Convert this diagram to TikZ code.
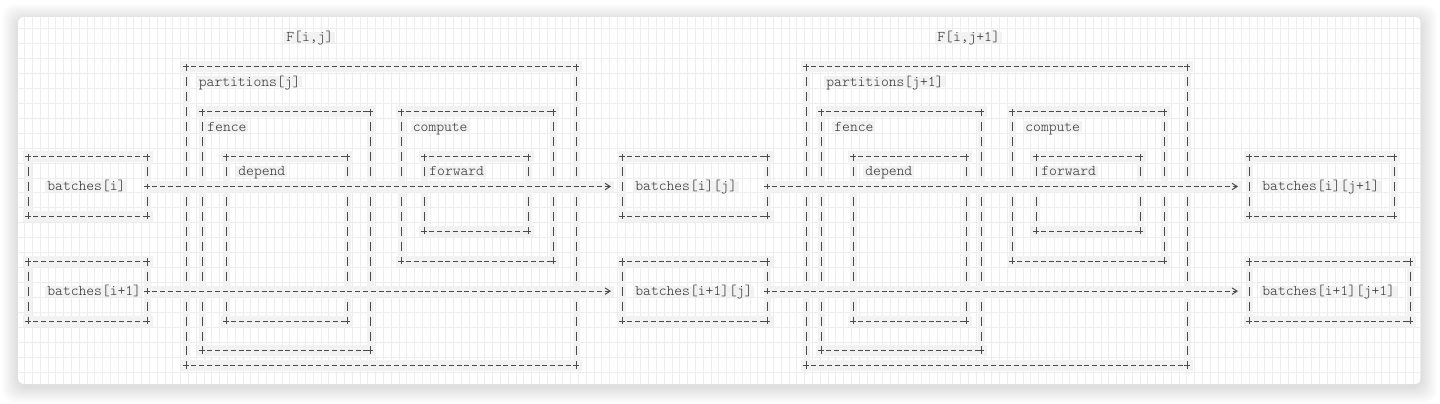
\documentclass[tikz,border=0pt]{standalone}
\usepackage{fontspec}
\newfontfamily\asciifont{lmmonolt10-regular.otf}
\usepackage{xcolor}
\definecolor{ink}{HTML}{333333}
\definecolor{rule}{HTML}{4A4A4A}
\definecolor{band}{HTML}{F2F2F2}
\definecolor{gridgray}{HTML}{EDEDED}
\usetikzlibrary{fit}
\usetikzlibrary{arrows.meta}

\tikzset{
	box/.style={inner sep=0pt, outer sep=0pt},
	hdash/.style={draw=rule, line width=0.5pt, dash pattern=on 2.5pt off 1.4pt, dash phase=1.25pt},
	vdash/.style={draw=rule, line width=0.5pt, dash pattern=on 4.5pt off 2.975pt, dash phase=2.25pt},
	hband/.style={draw=band, line width=5.5pt},
	vband/.style={draw=band, line width=3.5pt},
	plus/.style={draw=rule, line width=0.5pt},
	flow/.style={hdash, shorten >=5.5pt, -{Straight Barb[length=2.5pt,width=3.2pt]}},
	gridrule/.style={draw=gridgray, line width=0.5pt},
	lbl/.style={anchor=base west, inner xsep=1pt, inner ysep=0pt, text height=4.95pt, text depth=0.55pt,
		fill=band, text=ink, font=\asciifont\fontsize{7.43}{9}\selectfont, yshift=-2.2pt}
}

\begin{document}
\begin{tikzpicture}[x=0.5pt, y=-7.475pt]
		\useasboundingbox (0,-2.475) rectangle (1440,24.482);
		\fill[white] (0,-2.475) rectangle (1440,24.482);
		
		%card with shadow
		\foreach \s in {1,...,16}
		\fill[black, opacity=0.008, rounded corners=6pt] ({18-\s},{-1.338-(\s-3)/14.95}) rectangle ({1421+\s},{23.211+(\s+3)/14.95});
		\begin{scope}
			\clip[rounded corners=3pt] (18,-1.338) rectangle (1421,23.211);
			\fill[white] (18,-1.338) rectangle (1421,23.211);
			\foreach \k in {0,...,179}
			\draw[gridrule] ({24.6+7.8*\k},-1.4) -- ({24.6+7.8*\k},23.3);
			\foreach \k in {0,...,23}
			\draw[gridrule] (18,{\k-0.5686}) -- (1421,{\k-0.5686});
		\end{scope}
		
		%boxes of F[i,j]
		\node[box, fit={(28,8) (147,12)}] (batchI) {};
		\node[box, fit={(28,15) (147,19)}] (batchII) {};
		\node[box, fit={(186,2) (576,22)}] (partJ) {};
		\node[box, fit={(202,5) (370,21)}] (fenceJ) {};
		\node[box, fit={(226,8) (347,19)}] (dependJ) {};
		\node[box, fit={(401,5) (553,15)}] (computeJ) {};
		\node[box, fit={(424,8) (528,13)}] (forwardJ) {};
		\node[box, fit={(622,8) (767,12)}] (batchIJ) {};
		\node[box, fit={(622,15) (767,19)}] (batchIIJ) {};
		
		%boxes of F[i,j+1]
		\node[box, fit={(806,2) (1187,22)}] (partJJ) {};
		\node[box, fit={(821,5) (981,21)}] (fenceJJ) {};
		\node[box, fit={(853,8) (966,19)}] (dependJJ) {};
		\node[box, fit={(1012,5) (1164,15)}] (computeJJ) {};
		\node[box, fit={(1036,8) (1140,13)}] (forwardJJ) {};
		\node[box, fit={(1249,8) (1394,12)}] (batchIJJ) {};
		\node[box, fit={(1249,15) (1410,19)}] (batchIIJJ) {};
		
		%draw box edges
		\foreach \b in {batchI,batchII,partJ,fenceJ,dependJ,computeJ,forwardJ,batchIJ,batchIIJ,partJJ,fenceJJ,dependJJ,computeJJ,forwardJJ,batchIJJ,batchIIJJ}
		{
			\draw[hband, line cap=rect] (\b.north west) -- (\b.north east) (\b.south west) -- (\b.south east);
			\draw[vband] (\b.north west) -- (\b.south west) (\b.north east) -- (\b.south east);
		}
		\foreach \b in {batchI,batchII,partJ,fenceJ,dependJ,computeJ,forwardJ,batchIJ,batchIIJ,partJJ,fenceJJ,dependJJ,computeJJ,forwardJJ,batchIJJ,batchIIJJ}
		{
			\draw[hdash] (\b.north west) -- (\b.north east) (\b.south west) -- (\b.south east);
			\draw[vdash] (\b.north west) -- (\b.south west) (\b.north east) -- (\b.south east);
			\foreach \a in {north west,north east,south west,south east}
			\draw[plus] (\b.\a) +(-3,0) -- +(3,0) +(0,-0.2) -- +(0,0.2);
		}
		
		%arrows
		\draw[hband, shorten >=4pt] (batchI.east) -- (batchIJ.west);
		\draw[hband, shorten >=4pt] (batchII.east) -- (batchIIJ.west);
		\draw[hband, shorten >=4pt] (batchIJ.east) -- (batchIJJ.west);
		\draw[hband, shorten >=4pt] (batchIIJ.east) -- (batchIIJJ.west);
		\draw[flow] (batchI.east) -- (batchIJ.west);
		\draw[flow] (batchII.east) -- (batchIIJ.west);
		\draw[flow] (batchIJ.east) -- (batchIJJ.west);
		\draw[flow] (batchIIJ.east) -- (batchIIJJ.west);
		\foreach \s in {batchI,batchII,batchIJ,batchIIJ}
		\draw[plus] (\s.east) +(-3,0) -- +(3,0) +(0,-0.2) -- +(0,0.2);
		
		%names
		\node[lbl] (tFj) at (284,0) {F[i,j]};
		\node[lbl] (tFjj) at (935,0) {F[i,j+1]};
		\node[lbl] (tPartJ) at (196.5,3) {partitions[j]};
		\node[lbl] (tPartJJ) at (824,3) {partitions[j+1]};
		\node[lbl] (tFenceJ) at (205,6) {fence};
		\node[lbl] (tFenceJJ) at (832,6) {fence};
		\node[lbl] (tComputeJ) at (410.5,6) {compute};
		\node[lbl] (tComputeJJ) at (1023,6) {compute};
		\node[lbl] (tDependJ) at (236,9) {depend};
		\node[lbl] (tDependJJ) at (863,9) {depend};
		\node[lbl] (tForwardJ) at (427,9) {forward};
		\node[lbl] (tForwardJJ) at (1039,9) {forward};
		\node[lbl] (tBatchI) at (45,10) {batches[i]};
		\node[lbl] (tBatchII) at (45,17) {batches[i+1]};
		\node[lbl] (tBatchIJ) at (633,10) {batches[i][j]};
		\node[lbl] (tBatchIIJ) at (633,17) {batches[i+1][j]};
		\node[lbl] (tBatchIJJ) at (1260,10) {batches[i][j+1]};
		\node[lbl] (tBatchIIJJ) at (1260,17) {batches[i+1][j+1]};
\end{tikzpicture}
\end{document}
